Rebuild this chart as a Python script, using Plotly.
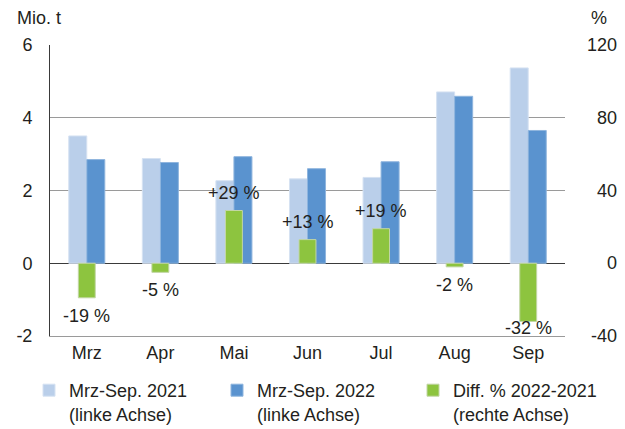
import plotly.graph_objects as go

months = ["Mrz", "Apr", "Mai", "Jun", "Jul", "Aug", "Sep"]
vals_2021 = [3.50, 2.88, 2.27, 2.32, 2.36, 4.71, 5.37]
vals_2022 = [2.85, 2.77, 2.93, 2.60, 2.79, 4.59, 3.65]
diff_pct = [-19, -5, 29, 13, 19, -2, -32]

left_ticks = [-2, 0, 2, 4, 6]
right_ticks = [-40, 0, 40, 80, 120]

FONT = "Liberation Sans, Arial, Helvetica, sans-serif"
FS = 18
TXT = "#231f20"
C21 = "#bacfea"
C22 = "#5a93cf"
CG = "#8dc43f"

# the page body adds an 8px margin; size the figure so it fits the 625x429 window
W, H = 617, 421
ML, MR, MT, MB = 42, 60, 37, 93

fig = go.Figure()
fig.add_trace(go.Bar(
    x=months, y=vals_2021, name="Mrz-Sep. 2021<br>(linke Achse)",
    marker=dict(color=C21, line=dict(color="#d6e2f2", width=1)),
    width=0.245, offset=-0.245, yaxis="y", legend="legend"))
fig.add_trace(go.Bar(
    x=months, y=vals_2022, name="Mrz-Sep. 2022<br>(linke Achse)",
    marker=dict(color=C22, line=dict(color="#8fb5de", width=1)),
    width=0.245, offset=0.0, yaxis="y", legend="legend2"))
fig.add_trace(go.Bar(
    x=months, y=diff_pct, name="Diff. % 2022-2021<br>(rechte Achse)",
    marker=dict(color=CG, line=dict(color="#c2d6a6", width=1)),
    width=0.23, offset=-0.115, yaxis="y2", legend="legend3"))

# value labels for the difference bars
plot_h = H - MT - MB
ppu = plot_h / (right_ticks[-1] - right_ticks[0])
for m, v in zip(months, diff_pct):
    if v >= 0:
        shift = 18
    else:
        shift = -min(18, (v - right_ticks[0]) * ppu - 8)
    fig.add_annotation(x=m, y=v, xref="x", yref="y2", yshift=shift,
                       text=f"{v:+d} %" if v > 0 else f"{v} %",
                       showarrow=False, font=dict(size=FS, color=TXT, family=FONT))

# right axis tick labels, right-aligned like the original
for t in right_ticks:
    fig.add_annotation(x=1, y=t, xref="paper", yref="y2", xshift=54,
                       xanchor="right", yanchor="middle", text=str(t),
                       showarrow=False, font=dict(size=FS, color=TXT, family=FONT))

fig.add_annotation(text="Mio. t", xref="paper", yref="paper", x=-0.068, y=1.0,
                   yshift=27, xanchor="left", yanchor="middle", showarrow=False,
                   font=dict(size=FS, color=TXT, family=FONT))
fig.add_annotation(text="%", xref="paper", yref="paper", x=1.085, y=1.0,
                   yshift=27, xanchor="right", yanchor="middle", showarrow=False,
                   font=dict(size=FS, color=TXT, family=FONT))


def legend_box(px):
    return dict(orientation="v", xref="container", yref="container",
                x=px / W, y=1 - 364 / H, xanchor="left", yanchor="top",
                valign="top", font=dict(size=FS, color=TXT, family=FONT),
                itemclick=False, bgcolor="rgba(0,0,0,0)")


fig.update_layout(
    width=W, height=H,
    margin=dict(l=ML, r=MR, t=MT, b=MB, autoexpand=False),
    paper_bgcolor="white", plot_bgcolor="white",
    barmode="overlay",
    font=dict(family=FONT, size=FS, color=TXT),
    xaxis=dict(showline=True, linecolor="#9a9a9a", linewidth=1, ticks="",
               tickfont=dict(size=FS, color=TXT), showgrid=False),
    yaxis=dict(range=[left_ticks[0], left_ticks[-1]], tickvals=left_ticks,
               ticktext=[str(t) for t in left_ticks],
               showgrid=True, gridcolor="#9a9a9a", gridwidth=1,
               zeroline=True, zerolinecolor="#3a3a3a", zerolinewidth=1,
               showline=True, linecolor="#3a3a3a", linewidth=1,
               ticks="", ticklabelstandoff=13, tickfont=dict(size=FS, color=TXT)),
    yaxis2=dict(range=[right_ticks[0], right_ticks[-1]], tickvals=right_ticks,
                overlaying="y", side="right", showgrid=False, zeroline=False,
                showline=False, ticks="", showticklabels=False),
    showlegend=True,
    legend=legend_box(21),
    legend2=legend_box(209),
    legend3=legend_box(405),
)

fig.write_html("out.html")
